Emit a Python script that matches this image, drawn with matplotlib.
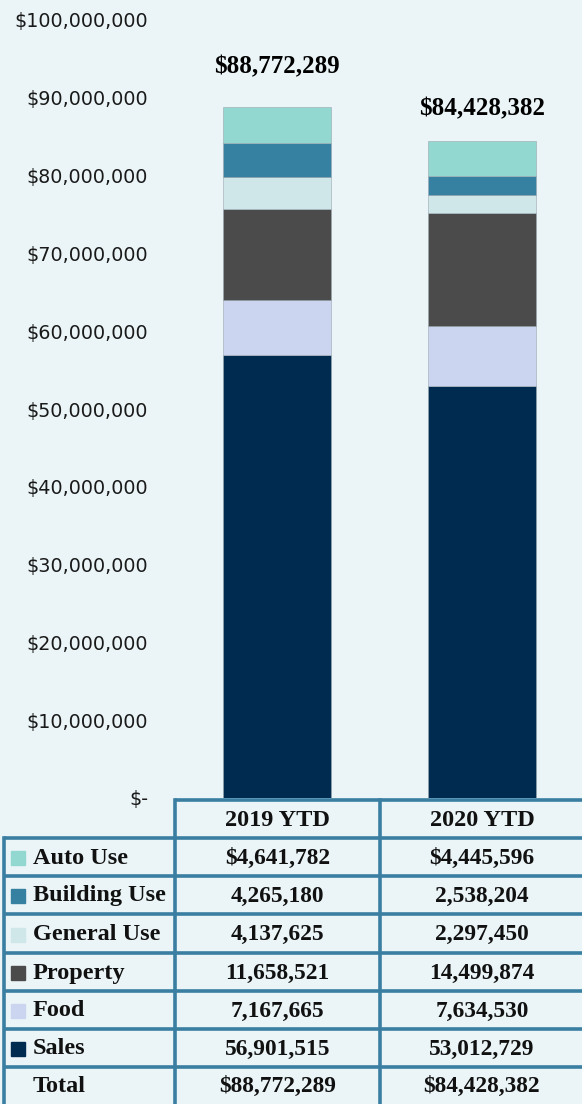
import numpy as np
import matplotlib
matplotlib.use("Agg")
import matplotlib.pyplot as plt
from matplotlib.ticker import FuncFormatter

# Data
periods = ["2019 YTD", "2020 YTD"]
series = ["Sales", "Food", "Property", "General Use", "Building Use", "Auto Use"]
sales = [56901515, 53012729]
food = [7167665, 7634530]
prop = [11658521, 14499874]
general_use = [4137625, 2297450]
building_use = [4265180, 2538204]
auto_use = [4641782, 4445596]
totals = [88772289, 84428382]
values = [sales, food, prop, general_use, building_use, auto_use]
colors = ["#002b51", "#cbd5ef", "#4b4b4b", "#d0e7ea", "#3680a2", "#92d8d0"]

bg = "#ebf5f7"
border = "#3a7fa2"
serif = ["Liberation Serif", "DejaVu Serif"]

W, H = 582, 1104
fig = plt.figure(figsize=(W / 100, H / 100), dpi=100, facecolor=bg)

# chart axes (pixel layout)
left, right, top, base = 175, 582, 20, 798
ax = fig.add_axes([left / W, (H - base) / H, (right - left) / W, (base - top) / H])
ax.set_facecolor(bg)
x = np.arange(len(periods))
bottom = np.zeros(len(periods))
for name, vals, c in zip(series, values, colors):
    ax.bar(x, vals, width=0.527, bottom=bottom, color=c, label=name,
           edgecolor="#9aa7b0", linewidth=0.4)
    bottom += np.array(vals)

label_offsets = [29, 23]  # points above bar top
for xi, t, off in zip(x, totals, label_offsets):
    ax.annotate(f"${t:,.0f}", (xi, bottom[xi]), xytext=(0, off), textcoords="offset points",
                ha="center", va="center", fontsize=18, fontweight="bold", family=serif)

ax.set_ylim(0, 100_000_000)
ax.set_xlim(-0.498, 1.488)
ax.set_yticks(np.arange(0, 100_000_001, 10_000_000))
ax.yaxis.set_major_formatter(FuncFormatter(lambda v, p: "$-" if v == 0 else f"${v:,.0f}"))
ax.tick_params(axis="y", length=0, pad=19.5, labelsize=13.8, labelcolor="#1a1a1a")
ax.set_xticks([])
for s in ax.spines.values():
    s.set_visible(False)

# data table below the chart
tab = fig.add_axes([0, 0, 1, 1])
tab.set_xlim(0, W)
tab.set_ylim(H, 0)
tab.axis("off")
tab.patch.set_alpha(0)

col_x = [4, 175, 380, 584]
row_y = [800, 838, 876, 914, 953, 991, 1029, 1067, 1106]
lw = 2.6
tab.plot([col_x[1], col_x[3]], [row_y[0], row_y[0]], color=border, lw=lw, solid_capstyle="butt")
for y in row_y[1:]:
    tab.plot([col_x[0], col_x[3]], [y, y], color=border, lw=lw, solid_capstyle="butt")
tab.plot([col_x[0], col_x[0]], [row_y[1], row_y[-1]], color=border, lw=lw)
for cx in col_x[1:]:
    tab.plot([cx, cx], [row_y[0], row_y[-1]], color=border, lw=lw)

txt = dict(fontsize=16.8, fontweight="bold", family=serif, va="center", color="#111111")
lbl = dict(txt, fontsize=17.5)
for j, p in enumerate(periods):
    tab.text((col_x[j + 1] + col_x[j + 2]) / 2, (row_y[0] + row_y[1]) / 2 + 1, p, ha="center", **lbl)

rows = list(zip(series, values, colors))[::-1]
for i, (name, vals, c) in enumerate(rows):
    yc = (row_y[i + 1] + row_y[i + 2]) / 2 + 1
    tab.add_patch(plt.Rectangle((11, yc - 7), 14, 14, color=c))
    tab.text(33, yc, name, ha="left", **lbl)
    for j, v in enumerate(vals):
        s = f"${v:,.0f}" if i == 0 else f"{v:,.0f}"
        tab.text((col_x[j + 1] + col_x[j + 2]) / 2, yc, s, ha="center", **txt)

yc = (row_y[7] + row_y[8]) / 2
tab.text(33, yc, "Total", ha="left", **lbl)
for j, t in enumerate(totals):
    tab.text((col_x[j + 1] + col_x[j + 2]) / 2, yc, f"${t:,.0f}", ha="center", **txt)

fig.savefig("out.png", dpi=100, facecolor=bg)
